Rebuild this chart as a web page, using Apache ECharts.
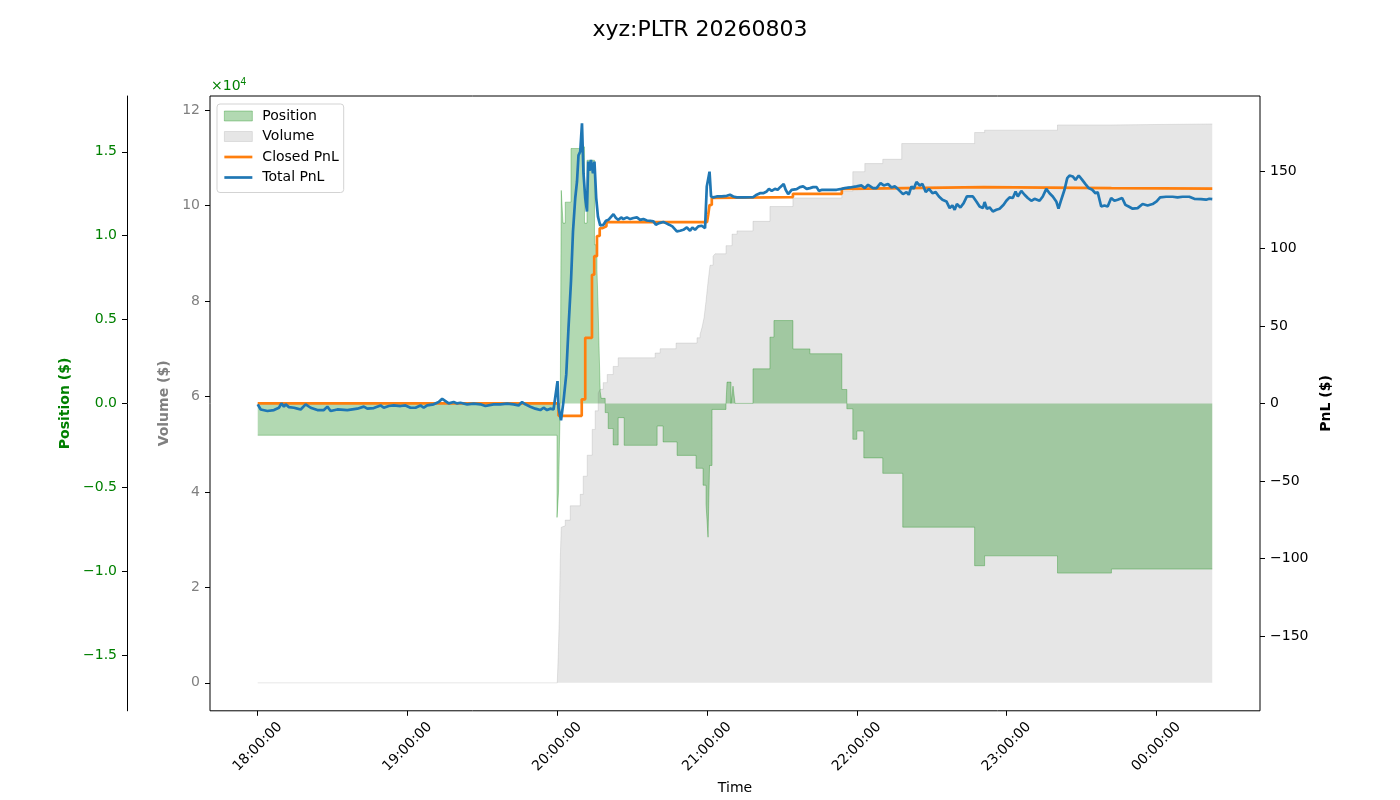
<!DOCTYPE html>
<html>
<head>
<meta charset="utf-8">
<title>xyz:PLTR 20260803</title>
<script src="https://cdn.jsdelivr.net/npm/echarts@6.0.0/dist/echarts.min.js"></script>
<style>
  html, body { margin: 0; padding: 0; background: #fff; }
  #chart { width: 1400px; height: 800px; }
</style>
</head>
<body>
<div id="chart"></div>
<script>
// minutes after 18:00:00
const posTime = [0, 119.9, 120.5, 121.2, 121.6, 122.3, 123.2, 125.5, 126.0, 129.2, 130.9, 131.9, 134.9, 135.9, 136.4, 136.8, 137.2, 137.6, 139.2, 140.4, 142.4, 144.4, 146.8, 160.0, 162.4, 168.0, 175.6, 178.4, 179.6, 180.4, 181.0, 182.0, 187.6, 188.0, 189.6, 190.4, 191.2, 198.4, 205.2, 206.8, 214.4, 221.2, 234.0, 236.0, 238.4, 240.0, 242.8, 250.4, 258.4, 287.2, 291.2, 320.4, 342.0, 382.4];
const posValue = [-1900, -6800, -5300, 0, 12700, 10750, 12000, 15200, 15200, 15300, 10750, 14500, 9460, 8000, 5500, 3000, 700, 300, -550, -1500, -2480, -850, -2500, -1350, -2300, -3100, -3870, -4880, -6000, -7980, -3700, -360, 0, 1270, 0, 1030, 0, 2060, 3950, 4940, 3250, 2960, 830, -320, -2140, -1650, -3250, -4170, -7380, -9680, -9090, -10120, -9880, -9880];

const volTime = [0, 120.0, 120.4, 120.8, 121.2, 121.6, 122.0, 123.2, 125.2, 129.2, 130.4, 132.0, 134.0, 135.2, 136.4, 137.2, 138.4, 140.0, 142.4, 144.4, 159.2, 161.2, 167.6, 176.0, 177.2, 178.0, 178.8, 179.6, 180.4, 181.2, 182.4, 183.2, 187.6, 190.0, 192.0, 198.4, 205.2, 214.4, 234.0, 238.4, 243.2, 250.4, 258.0, 287.2, 291.2, 320.4, 342.0, 382.4];
const volValue = [0, 0, 6000, 13400, 26000, 32600, 32900, 34100, 37100, 39500, 43300, 47700, 53100, 57000, 60800, 61500, 62900, 64600, 66300, 68100, 69100, 70000, 71200, 72300, 73000, 74500, 76500, 80000, 84000, 87500, 89400, 89900, 91600, 94000, 94700, 96700, 99800, 101600, 103000, 107100, 108800, 109700, 113000, 115300, 115800, 116900, 117100, 117100];

const closedTime = [0, 120.5, 129.8, 131.2, 133.9, 134.8, 135.9, 137.0, 138.0, 139.7, 180.0, 180.5, 181.0, 181.9, 182.5, 214.4, 234.0, 236.0, 290.8, 342.0, 382.4];
const closedValue = [0, -8, 2.6, 42.3, 83, 95, 108, 113, 114.2, 117, 117, 122, 128, 132.5, 133.1, 135.2, 138.4, 139.5, 138.9, 138.6, 138.6];

const totalTime = [0.0, 1.2, 3.9, 6.5, 8.5, 9.5, 10.5, 11.2, 12.5, 14.5, 15.9, 17.2, 19.2, 21.2, 23.9, 26.5, 27.9, 29.2, 31.9, 35.9, 39.9, 42.5, 43.9, 46.5, 49.2, 50.5, 52.5, 54.5, 57.2, 59.2, 61.2, 63.2, 65.2, 66.5, 67.9, 70.5, 72.5, 73.9, 75.2, 76.5, 78.5, 79.9, 81.2, 83.9, 86.5, 89.2, 91.2, 94.5, 97.2, 99.9, 102.5, 104.5, 105.9, 107.2, 109.2, 111.2, 113.2, 114.5, 115.9, 117.2, 118.5, 119.2, 120.1, 120.5, 121.5, 122.5, 123.6, 124.5, 125.5, 126.3, 127.2, 127.9, 128.5, 129.2, 129.9, 130.5, 131.2, 131.9, 132.4, 132.9, 133.5, 134.3, 134.9, 135.6, 136.3, 137.2,
  138.5, 139.5, 140.5, 141.2, 142.5, 143.5, 144.5, 145.6, 146.5, 147.9, 149.2, 150.5, 151.9, 153.2, 154.5, 155.9, 157.2, 158.5, 159.5, 160.8, 162.5, 163.5, 164.8, 166.1, 167.9, 169.2, 170.5, 171.9, 173.2, 174.1, 175.2, 176.5, 177.9, 179.2, 179.9, 181.0, 181.6, 182.5, 183.9, 185.9, 187.9, 189.2, 190.5, 191.9, 195.2, 198.5, 199.9, 201.2, 202.5, 203.9, 204.8, 205.9, 207.2, 208.3, 209.3, 210.7, 211.5, 212.5, 213.9, 215.9, 217.2, 218.5, 219.9, 221.2, 222.5, 223.9, 224.8, 226.1, 227.9, 229.9, 231.9, 233.9,
  235.2, 237.2, 239.9, 241.9, 243.2, 244.5, 246.5, 247.9, 249.5, 250.8, 252.5, 253.9, 255.2, 256.1, 257.2, 258.5, 259.9, 260.8, 261.9, 262.8, 263.9, 265.2, 266.3, 267.6, 268.9, 270.3, 271.6, 272.9, 274.3, 275.9, 277.2, 278.3, 279.2, 280.1, 281.5, 282.8, 284.1, 286.5, 287.9, 289.2, 290.5, 291.2, 292.1, 293.2, 294.5, 295.9, 297.2, 298.8, 299.9, 301.2, 301.9, 302.5, 303.6, 304.5, 305.9, 307.2, 308.5, 309.9, 311.2, 313.2, 314.5, 315.9, 317.2, 318.5, 319.9, 320.8, 321.9, 323.2, 324.3, 325.2, 326.5, 327.6, 328.9, 330.3, 331.6, 332.9, 334.3, 335.6, 336.5, 337.9, 339.2, 340.5, 341.9, 343.2, 344.5, 346.3, 347.6, 348.9, 350.5, 352.5, 354.5, 356.5, 358.5, 360.1, 361.5, 363.9, 366.5, 368.5, 370.5, 373.2, 375.2, 377.9, 379.9, 381.2, 382.4];
const totalValue = [-0.6, -3.9, -4.9, -4.3, -2.8, 0, -2.1, -0.6, -2.4, -2.8, -3.4, -3.9, -0.6, -2.8, -4.3, -4.3, -2.1, -4.9, -3.9, -4.3, -3.4, -2.1, -3.4, -3.0, -1.3, -2.8, -1.7, -1.3, -1.7, -1.3, -2.8, -2.8, -1.3, -2.8, -1.3, -0.6, 0.9, 3.0, 1.5, 0, 0.9, 0, 0.4, -0.6, -0.2, -0.6, -1.7, -0.6, -0.6, -0.2, -0.6, -1.3, 0.9, -0.6, -2.1, -3.4, -4.3, -2.8, -4.3, -3.4, -3.9, -3.5, 14.4, -2.8, -10.9, 1.5, 18.7, 48.7, 78.8, 111, 132.5, 143, 160, 162.5, 180.7, 148.5, 132.5, 123.8, 156, 150, 157, 148.5, 156, 132.5, 120.5, 114.8,
  115.2, 117.8, 118.4, 119.6, 122.1, 119.6, 118.4, 120, 118.9, 120, 118.9, 119.6, 120, 118.4, 118.9, 118, 117.8, 117.4, 115.3, 116.3, 117, 116.3, 115.3, 114.2, 111, 111.4, 112, 113.5, 111.4, 113.5, 112, 114.2, 114.6, 113, 140, 149.5, 133.5, 132.9, 133.5, 133.5, 133.9, 134.6, 133.5, 132.9, 132.9, 133.1, 134.6, 135.6, 135.6, 136.7, 138.4, 137.1, 138.4, 137.8, 139.5, 141.5, 137.8, 135, 137.8, 138.2, 139.5, 140, 138.4, 138.9, 139.5, 139.5, 137.1, 137.8, 137.8, 137.8, 137.8, 138.4,
  138.9, 139.3, 140, 140.6, 138.9, 141, 138.9, 138.9, 142.1, 140.6, 141.5, 139.3, 140, 138.9, 137.1, 135, 136.3, 134.6, 140, 138.4, 142.8, 140.6, 141.5, 136.3, 138.4, 135.6, 136.3, 133.5, 131.4, 130.3, 126, 127.7, 124.9, 128.6, 126.4, 129.2, 133.5, 133.5, 130.3, 127, 126, 129.9, 125.6, 126.4, 123.8, 124.9, 125.6, 128.1, 130.7, 132.9, 134.1, 132.5, 136.7, 133.5, 137.1, 134.6, 132.5, 130.7, 132, 130.7, 133.5, 138.4, 135.6, 133.5, 130.3, 125.6, 131.4, 137.8, 145.3, 147, 146.4, 144.2, 147, 144.2, 141.5, 138.9, 137.8, 135.6, 136.3, 127, 127.7, 127, 132.5, 130.7, 131.4, 132.5, 128.1, 127, 125.6, 126, 128.6, 127.7, 128.6, 130.3, 132.9, 133.3, 133.3, 132.9, 133.3, 133.3, 132, 131.8, 131.4, 132, 131.8];

const timeTicks = [0, 60, 120, 180, 240, 300, 360];
const posTicks = [-15000, -10000, -5000, 0, 5000, 10000, 15000];
const volTicks = [0, 20000, 40000, 60000, 80000, 100000, 120000];
const pnlTicks = [-150, -100, -50, 0, 50, 100, 150];

const zip = (a, b) => a.map((t, i) => [t, b[i]]);
const minus = (s) => s.replace('-', '\u2212');
const fmtTime = (m) => {
  const h = (18 + Math.floor(m / 60)) % 24;
  const mm = Math.round(m % 60);
  return String(h).padStart(2, '0') + ':' + String(mm).padStart(2, '0') + ':00';
};

const font = 'DejaVu Sans';
const noDot = { color: 'rgba(0,0,0,0)', borderColor: 'rgba(0,0,0,0)', borderWidth: 0 };
const chart = echarts.init(document.getElementById('chart'));

const option = {
  animation: false,
  title: {
    text: 'xyz:PLTR 20260803',
    left: 'center',
    top: 14,
    textStyle: { fontFamily: font, fontSize: 22, fontWeight: 'normal', color: '#000' }
  },
  graphic: [{
    type: 'text',
    left: 211,
    top: 77,
    style: {
      text: '×10{sup|4}',
      fill: '#008000',
      font: '14px "DejaVu Sans"',
      rich: { sup: { fontSize: 10, verticalAlign: 'top', padding: [0, 0, 8, 0], fill: '#008000' } }
    }
  }],
  legend: {
    orient: 'vertical',
    left: 217,
    top: 104,
    padding: [5, 5, 8, 6],
    itemWidth: 28,
    itemHeight: 10,
    itemGap: 6.5,
    backgroundColor: 'rgba(255,255,255,0.8)',
    borderColor: '#d3d3d3',
    borderWidth: 1,
    borderRadius: 3,
    textStyle: { fontFamily: font, fontSize: 14, lineHeight: 14, color: '#000', padding: [0, 0, 0, 5] },
    data: [
      { name: 'Position', icon: 'rect', itemStyle: { color: 'rgba(0,128,0,0.3)', borderColor: 'rgba(0,128,0,0.3)', borderWidth: 1 } },
      { name: 'Volume', icon: 'rect', itemStyle: { color: 'rgba(128,128,128,0.2)', borderColor: 'rgba(128,128,128,0.2)', borderWidth: 1 } },
      { name: 'Closed PnL', itemStyle: noDot, lineStyle: { width: 2.7 } },
      { name: 'Total PnL', itemStyle: noDot, lineStyle: { width: 2.7 } }
    ]
  },
  grid: {
    left: 210, right: 140, top: 96, bottom: 88,
    show: true, borderColor: '#000', borderWidth: 1, backgroundColor: 'transparent'
  },
  xAxis: {
    type: 'value',
    min: -19.12,
    max: 401.52,
    name: 'Time',
    nameLocation: 'middle',
    nameGap: 68,
    nameTextStyle: { fontFamily: font, fontSize: 14, color: '#000' },
    axisLine: { show: false, onZero: false },
    splitLine: { show: false },
    axisTick: { show: true, length: 5, lineStyle: { color: '#000' }, customValues: timeTicks },
    axisLabel: {
      customValues: timeTicks,
      rotate: 45,
      align: 'center',
      verticalAlign: 'middle',
      margin: 36,
      fontFamily: font, fontSize: 14, color: '#000',
      formatter: fmtTime
    }
  },
  yAxis: [
    {
      type: 'value',
      position: 'left',
      offset: 83,
      min: -18330,
      max: 18330,
      name: 'Position ($)',
      nameLocation: 'middle',
      nameRotate: 90,
      nameGap: 52,
      nameTextStyle: { fontFamily: font, fontSize: 14, fontWeight: 'bold', color: '#008000' },
      axisLine: { show: true, onZero: false, lineStyle: { color: '#000', width: 1 } },
      splitLine: { show: false },
      axisTick: { show: true, length: 5, lineStyle: { color: '#000' }, customValues: posTicks },
      axisLabel: {
        customValues: posTicks,
        margin: 10,
        fontFamily: font, fontSize: 14, color: '#008000',
        formatter: (v) => minus((v / 10000).toFixed(1))
      }
    },
    {
      type: 'value',
      position: 'left',
      min: -5855,
      max: 122960,
      name: 'Volume ($)',
      nameLocation: 'middle',
      nameRotate: 90,
      nameGap: 35,
      nameTextStyle: { fontFamily: font, fontSize: 14, fontWeight: 'bold', color: '#808080' },
      axisLine: { show: false, onZero: false },
      splitLine: { show: false },
      axisTick: { show: true, length: 5, lineStyle: { color: '#000' }, customValues: volTicks },
      axisLabel: {
        customValues: volTicks,
        margin: 10,
        fontFamily: font, fontSize: 14, color: '#808080',
        formatter: (v) => String(Math.round(v / 10000))
      }
    },
    {
      type: 'value',
      position: 'right',
      min: -198.3,
      max: 198.3,
      name: 'PnL ($)',
      nameLocation: 'middle',
      nameRotate: 90,
      nameGap: 53,
      nameTextStyle: { fontFamily: font, fontSize: 14, fontWeight: 'bold', color: '#000' },
      axisLine: { show: false, onZero: false },
      splitLine: { show: false },
      axisTick: { show: true, length: 5, lineStyle: { color: '#000' }, customValues: pnlTicks },
      axisLabel: {
        customValues: pnlTicks,
        margin: 10,
        fontFamily: font, fontSize: 14, color: '#000',
        formatter: (v) => minus(String(v))
      }
    }
  ],
  series: [
    {
      name: 'Volume',
      type: 'line',
      yAxisIndex: 1,
      step: 'end',
      showSymbol: false,
      symbol: 'none',
      lineStyle: { color: 'rgba(128,128,128,0.2)', width: 1 },
      itemStyle: { color: 'rgba(128,128,128,0.2)' },
      areaStyle: { color: 'rgba(128,128,128,0.2)', opacity: 1 },
      data: zip(volTime, volValue)
    },
    {
      name: 'Position',
      type: 'line',
      yAxisIndex: 0,
      step: 'end',
      showSymbol: false,
      symbol: 'none',
      lineStyle: { color: 'rgba(0,128,0,0.3)', width: 1 },
      itemStyle: { color: 'rgba(0,128,0,0.3)' },
      areaStyle: { color: 'rgba(0,128,0,0.3)', opacity: 1 },
      data: zip(posTime, posValue)
    },
    {
      name: 'Closed PnL',
      type: 'line',
      yAxisIndex: 2,
      step: 'end',
      showSymbol: false,
      symbol: 'none',
      color: '#ff7f0e',
      lineStyle: { color: '#ff7f0e', width: 2.7 },
      data: zip(closedTime, closedValue)
    },
    {
      name: 'Total PnL',
      type: 'line',
      yAxisIndex: 2,
      showSymbol: false,
      symbol: 'none',
      color: '#1f77b4',
      lineStyle: { color: '#1f77b4', width: 2.7 },
      data: zip(totalTime, totalValue)
    }
  ]
};
chart.setOption(option);
</script>
</body>
</html>
